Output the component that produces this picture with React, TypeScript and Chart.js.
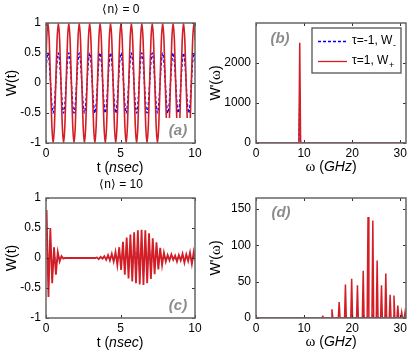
import React, { useEffect, useRef } from "react";
import { Chart, registerables } from "chart.js";
Chart.register(...registerables);

const SANS = "'Liberation Sans', Arial, Helvetica, sans-serif";
const SERIF = "'Liberation Serif', 'Times New Roman', serif";
const RED = "rgb(212,30,38)";
const BLUE = "#0000ff";
Chart.defaults.font.family = SANS;

// ---------- Panel (a): <n> = 0, sampled every aDt ns starting at aT0 ----------
const aT0 = -0.045;
const aDt = 0.0875;
const aRed = [
  0, 0.71, 1, 0.71, 0, -0.71, -1, -0.71,
  0, 0.71, 1, 0.71, 0, -0.71, -1, -0.71,
  0, 0.71, 1, 0.71, 0, -0.71, -1, -0.71,
  0, 0.71, 1, 0.71, 0, -0.71, -1, -0.71,
  0, 0.71, 1, 0.71, 0, -0.71, -1, -0.71,
  0, 0.71, 1, 0.71, 0, -0.71, -1, -0.71,
  0, 0.71, 1, 0.71, 0, -0.71, -1, -0.71,
  0, 0.71, 1, 0.71, 0, -0.71, -1, -0.71,
  0, 0.71, 1, 0.71, 0, -0.71, -1, -0.71,
  0, 0.71, 1, 0.71, 0, -0.71, -1, -0.71,
  0, 0.71, 1, 0.71, 0, -0.71, -1, -0.71,
  0, 0.71, 1, 0.71, 0, -0.71, -1, -0.71,
  0, 0.71, 1, 0.71, 0, -0.71, -1, -0.71,
  0, 0.71, 1, 0.71, 0, -0.71, -1, -0.71,
  0, 0.71, 1, 0.71,
];
const aBlue = [
  0, 0.35, 0.5, 0.35, 0, -0.35, -0.5, -0.35,
  0, 0.35, 0.5, 0.35, 0, -0.35, -0.5, -0.35,
  0, 0.35, 0.5, 0.35, 0, -0.35, -0.5, -0.35,
  0, 0.35, 0.5, 0.35, 0, -0.35, -0.5, -0.35,
  0, 0.35, 0.5, 0.35, 0, -0.35, -0.5, -0.35,
  0, 0.35, 0.5, 0.35, 0, -0.35, -0.5, -0.35,
  0, 0.35, 0.5, 0.35, 0, -0.35, -0.5, -0.35,
  0, 0.35, 0.5, 0.35, 0, -0.35, -0.5, -0.35,
  0, 0.35, 0.5, 0.35, 0, -0.35, -0.5, -0.35,
  0, 0.35, 0.5, 0.35, 0, -0.35, -0.5, -0.35,
  0, 0.35, 0.5, 0.35, 0, -0.35, -0.5, -0.35,
  0, 0.35, 0.5, 0.35, 0, -0.35, -0.5, -0.35,
  0, 0.35, 0.5, 0.35, 0, -0.35, -0.5, -0.35,
  0, 0.35, 0.5, 0.35, 0, -0.35, -0.5, -0.35,
  0, 0.35, 0.5, 0.35,
];

// ---------- Panel (c): <n> = 10, sampled every cDt ns ----------
const cT0 = 0.04;
const cDt = 0.125;
const cRed = [
  0.8, -0.65, 0.5, -0.42, 0.18, -0.28, 0.1, -0.06, 0.03, -0.01,
  0, 0, 0, 0, 0, 0, 0, 0, 0, 0, 0, 0, 0, 0, 0, 0, 0,
  0.01, -0.02, 0.02, -0.01, 0.03, -0.03, 0.05, -0.04, 0.07, -0.06,
  0.1, -0.12, 0.18, -0.2, 0.27, -0.28, 0.34, -0.34, 0.39, -0.39,
  0.43, -0.42, 0.46, -0.44, 0.47, -0.45, 0.46, -0.42, 0.41, -0.35,
  0.33, -0.27, 0.26, -0.19, 0.17, -0.12, 0.09, -0.06, 0.05, -0.04,
  0.06, -0.03, 0.04, -0.06, 0.05, -0.04, 0.07, -0.08, 0.06, -0.05,
  0.09, -0.1, 0.1, -0.07,
];
const cBlue = [
  0.5, -0.4, 0.3, -0.25, 0.1, -0.15, 0.06, -0.03, 0.02, 0,
  0, 0, 0, 0, 0, 0, 0, 0, 0, 0, 0, 0, 0, 0, 0, 0, 0,
  0.01, -0.01, 0.01, -0.01, 0.02, -0.02, 0.03, -0.02, 0.04, -0.04,
  0.06, -0.07, 0.1, -0.12, 0.16, -0.17, 0.2, -0.2, 0.23, -0.23,
  0.26, -0.25, 0.28, -0.27, 0.28, -0.27, 0.27, -0.25, 0.24, -0.21,
  0.2, -0.16, 0.15, -0.11, 0.1, -0.07, 0.05, -0.04, 0.03, -0.02,
  0.04, -0.02, 0.02, -0.04, 0.03, -0.02, 0.04, -0.05, 0.04, -0.03,
  0.05, -0.06, 0.06, -0.04,
];

// ---------- Panel (b): spectrum for <n> = 0 ----------
const bFreq = [9.1];
const bRed = [2500];
const bBlue = [1250];

// ---------- Panel (d): spectrum for <n> = 10 ----------
const dFreq = [13.9, 15.8, 17.3, 18.6, 19.9, 21.1, 22.3, 23.3, 24.3, 25.2, 26.1, 27.0, 27.9, 28.7, 29.5, 30.3, 31.0];
const dRed = [2, 12, 22, 46, 54, 45, 65, 139, 134, 79, 45, 61, 32, 31, 17, 8, 8];
const dBlue = [0, 0, 1, 2, 4, 12, 6, 3, 4, 10, 8, 4, 2, 3, 1, 1, 1];

// ---------- tick labels ----------
const timeTicks = [0, 5, 10];
const wTicks = [-1, -0.5, 0, 0.5, 1];
const omegaTicks = [0, 10, 20, 30];
const bTicks = [0, 1000, 2000];
const dTicks = [0, 50, 100, 150];

const OMEGA_MAX = 31.2;
const SPIKE_HALF = 0.18;

function timeSeries(t0: number, dt: number, vals: number[]) {
  return vals.map((v, i) => ({ x: t0 + i * dt, y: v }));
}
function spectrum(freqs: number[], heights: number[], max: number) {
  const pts: { x: number; y: number }[] = [{ x: 0, y: 0 }];
  freqs.forEach((f, i) => {
    pts.push({ x: f - SPIKE_HALF, y: 0 }, { x: f, y: heights[i] }, { x: f + SPIKE_HALF, y: 0 });
  });
  pts.push({ x: max, y: 0 });
  return pts;
}

type Seg = { t: string; f: string; dy?: number };

function drawRich(ctx: CanvasRenderingContext2D, segs: Seg[], cx: number, cy: number, rotate = false, color = "#000") {
  ctx.save();
  ctx.translate(cx, cy);
  if (rotate) ctx.rotate(-Math.PI / 2);
  let total = 0;
  for (const s of segs) {
    ctx.font = s.f;
    total += ctx.measureText(s.t).width;
  }
  let x = -total / 2;
  ctx.textBaseline = "middle";
  ctx.textAlign = "left";
  ctx.fillStyle = color;
  for (const s of segs) {
    ctx.font = s.f;
    ctx.fillText(s.t, x, s.dy || 0);
    x += ctx.measureText(s.t).width;
  }
  ctx.restore();
}

const F14 = `14px ${SANS}`;
const F14I = `italic 14px ${SANS}`;
const OMEGA = `15px ${SERIF}`;

const T_TITLE: Seg[] = [{ t: "t (", f: F14 }, { t: "nsec", f: F14I }, { t: ")", f: F14 }];
const W_TITLE: Seg[] = [{ t: "W(t)", f: F14 }];
const O_TITLE: Seg[] = [{ t: "ω", f: OMEGA }, { t: " (", f: F14 }, { t: "GHz", f: F14I }, { t: ")", f: F14 }];
const WP_TITLE: Seg[] = [{ t: "W'(", f: F14 }, { t: "ω", f: OMEGA }, { t: ")", f: F14 }];

interface Panel {
  left: number; top: number; width: number; height: number;
  plot: { l: number; r: number; t: number; b: number };
  datasets: any[];
  x: { min: number; max: number; ticks: number[] };
  y: { min: number; max: number; ticks: number[] };
  title?: string; titleX?: number; titleY?: number;
  xTitle: Seg[]; xTitleX: number; xTitleY: number;
  yTitle: Seg[]; yTitleX: number;
  letter: string; letterX: number; letterY: number;
  whiteBox?: { l: number; t: number; r: number; b: number };
  legend?: boolean;
}

function redDs(data: any[], width: number, smooth: boolean) {
  return {
    data, borderColor: RED, borderWidth: width, pointRadius: 0, fill: false,
    cubicInterpolationMode: smooth ? "monotone" : "default", tension: 0,
  };
}
function blueDs(data: any[], width: number, smooth: boolean) {
  return {
    data, borderColor: BLUE, borderWidth: width, borderDash: [3, 2], pointRadius: 0, fill: false,
    cubicInterpolationMode: smooth ? "monotone" : "default", tension: 0,
  };
}

const PANELS: Panel[] = [
  {
    left: 0, top: 0, width: 207, height: 176,
    plot: { l: 46, r: 195, t: 23, b: 143 },
    datasets: [redDs(timeSeries(aT0, aDt, aRed), 1.6, true), blueDs(timeSeries(aT0, aDt, aBlue), 1.4, true)],
    x: { min: 0, max: 10, ticks: timeTicks }, y: { min: -1, max: 1, ticks: wTicks },
    title: "⟨n⟩ = 0", titleX: 121, titleY: 10,
    xTitle: T_TITLE, xTitleX: 120, xTitleY: 168,
    yTitle: W_TITLE, yTitleX: 12,
    letter: "(a)", letterX: 178, letterY: 131,
    whiteBox: { l: 165, t: 118, r: 195, b: 143 },
  },
  {
    left: 207, top: 0, width: 208, height: 176,
    plot: { l: 256, r: 406, t: 23, b: 143 },
    datasets: [redDs(spectrum(bFreq, bRed, OMEGA_MAX), 1.5, false), blueDs(spectrum(bFreq, bBlue, OMEGA_MAX), 1.2, false)],
    x: { min: 0, max: OMEGA_MAX, ticks: omegaTicks }, y: { min: 0, max: 2990, ticks: bTicks },
    xTitle: O_TITLE, xTitleX: 331, xTitleY: 167,
    yTitle: WP_TITLE, yTitleX: 216,
    letter: "(b)", letterX: 280, letterY: 39,
    legend: true,
  },
  {
    left: 0, top: 176, width: 207, height: 184,
    plot: { l: 46, r: 195, t: 198, b: 318 },
    datasets: [redDs(timeSeries(cT0, cDt, cRed), 1.8, false), blueDs(timeSeries(cT0, cDt, cBlue), 1.2, false)],
    x: { min: 0, max: 10, ticks: timeTicks }, y: { min: -1, max: 1, ticks: wTicks },
    title: "⟨n⟩ = 10", titleX: 121, titleY: 184.5,
    xTitle: T_TITLE, xTitleX: 120, xTitleY: 343,
    yTitle: W_TITLE, yTitleX: 12,
    letter: "(c)", letterX: 178, letterY: 306,
  },
  {
    left: 207, top: 176, width: 208, height: 184,
    plot: { l: 256, r: 406, t: 198, b: 318 },
    datasets: [redDs(spectrum(dFreq, dRed, OMEGA_MAX), 1.5, false), blueDs(spectrum(dFreq, dBlue, OMEGA_MAX), 1.2, false)],
    x: { min: 0, max: OMEGA_MAX, ticks: omegaTicks }, y: { min: 0, max: 165, ticks: dTicks },
    xTitle: O_TITLE, xTitleX: 331, xTitleY: 342,
    yTitle: WP_TITLE, yTitleX: 216,
    letter: "(d)", letterX: 281, letterY: 213,
  },
];

function overlay(p: Panel) {
  const ox = p.left, oy = p.top;
  return {
    id: "overlay",
    afterDatasetsDraw(chart: any) {
      const ctx: CanvasRenderingContext2D = chart.ctx;
      const { left, right, top, bottom } = chart.chartArea;
      ctx.save();
      if (p.whiteBox) {
        const w = p.whiteBox;
        ctx.fillStyle = "#fff";
        ctx.fillRect(w.l - ox, w.t - oy, w.r - w.l, w.b - w.t);
      }
      // panel letter
      ctx.font = `italic bold 15px ${SANS}`;
      ctx.fillStyle = "#8c8c8c";
      ctx.textAlign = "center";
      ctx.textBaseline = "middle";
      ctx.fillText(p.letter, p.letterX - ox, p.letterY - oy);
      // inward ticks on all four sides
      ctx.strokeStyle = "#333";
      ctx.lineWidth = 1;
      ctx.beginPath();
      const xs = chart.scales.x, ys = chart.scales.y;
      xs.ticks.forEach((tk: any) => {
        const px = Math.round(xs.getPixelForValue(tk.value)) + 0.5;
        ctx.moveTo(px, bottom); ctx.lineTo(px, bottom - 3);
        ctx.moveTo(px, top); ctx.lineTo(px, top + 3);
      });
      ys.ticks.forEach((tk: any) => {
        const py = Math.round(ys.getPixelForValue(tk.value)) + 0.5;
        ctx.moveTo(left, py); ctx.lineTo(left + 3, py);
        ctx.moveTo(right, py); ctx.lineTo(right - 3, py);
      });
      ctx.stroke();
      // box
      ctx.strokeStyle = "#666";
      ctx.lineWidth = 1.5;
      ctx.strokeRect(left, top, right - left, bottom - top);
      // legend
      if (p.legend) {
        const lx = 312 - ox, ly = 28 - oy, lw = 89, lh = 45;
        ctx.fillStyle = "#fff";
        ctx.fillRect(lx, ly, lw, lh);
        ctx.strokeStyle = "#555";
        ctx.lineWidth = 1.3;
        ctx.strokeRect(lx, ly, lw, lh);
        const rows = [
          { c: BLUE, dash: [3, 2], y: 41, label: "τ=-1, W", sub: "-" },
          { c: RED, dash: [], y: 61, label: "τ=1, W", sub: "+" },
        ];
        rows.forEach((r) => {
          ctx.beginPath();
          ctx.setLineDash(r.dash);
          ctx.strokeStyle = r.c;
          ctx.lineWidth = 1.3;
          ctx.moveTo(318 - ox, r.y - oy + 0.5);
          ctx.lineTo(347 - ox, r.y - oy + 0.5);
          ctx.stroke();
          ctx.setLineDash([]);
          ctx.fillStyle = "#000";
          ctx.textAlign = "left";
          ctx.textBaseline = "middle";
          ctx.font = `12px ${SANS}`;
          ctx.fillText(r.label, 352 - ox, r.y - oy);
          const w = ctx.measureText(r.label).width;
          ctx.font = `9px ${SANS}`;
          ctx.fillText(r.sub, 352 - ox + w + 0.5, r.y - oy + 5);
        });
      }
      ctx.restore();
    },
    afterDraw(chart: any) {
      const ctx: CanvasRenderingContext2D = chart.ctx;
      const { top, bottom } = chart.chartArea;
      if (p.title) drawRich(ctx, [{ t: p.title, f: `12px ${SANS}` }], p.titleX! - ox, p.titleY! - oy);
      drawRich(ctx, p.xTitle, p.xTitleX - ox, p.xTitleY - oy);
      drawRich(ctx, p.yTitle, p.yTitleX - ox, (top + bottom) / 2, true);
    },
  };
}

function fmt(v: number) {
  return String(Math.round(v * 1000) / 1000);
}

function makeConfig(p: Panel): any {
  return {
    type: "line",
    data: { datasets: p.datasets },
    options: {
      responsive: false,
      animation: false,
      devicePixelRatio: 1,
      events: [],
      layout: { padding: { left: 0, top: p.plot.t - p.top, right: p.left + p.width - p.plot.r, bottom: 0 } },
      plugins: { legend: { display: false }, tooltip: { enabled: false }, title: { display: false } },
      elements: { point: { radius: 0 } },
      scales: {
        x: {
          type: "linear", min: p.x.min, max: p.x.max,
          grid: { display: false, drawTicks: false }, border: { display: false },
          ticks: { autoSkip: false, maxRotation: 0, padding: 3, color: "#000", font: { size: 12, family: SANS }, callback: (v: number) => fmt(v) },
          afterBuildTicks: (s: any) => { s.ticks = p.x.ticks.map((v) => ({ value: v })); },
          afterFit: (s: any) => { s.height = p.top + p.height - p.plot.b; },
        },
        y: {
          type: "linear", min: p.y.min, max: p.y.max,
          grid: { display: false, drawTicks: false }, border: { display: false },
          ticks: { autoSkip: false, padding: 5, color: "#000", font: { size: 12, family: SANS }, callback: (v: number) => fmt(v) },
          afterBuildTicks: (s: any) => { s.ticks = p.y.ticks.map((v) => ({ value: v })); },
          afterFit: (s: any) => { s.width = p.plot.l - p.left; },
        },
      },
    },
    plugins: [overlay(p)],
  };
}

export default function App() {
  const boxRef = useRef<HTMLDivElement>(null);
  useEffect(() => {
    const canvases = Array.from(boxRef.current!.querySelectorAll("canvas"));
    const charts = canvases.map((c, i) => new Chart(c, makeConfig(PANELS[i])));
    return () => charts.forEach((c) => c.destroy());
  }, []);
  return (
    <div ref={boxRef} style={{ position: "absolute", left: 0, top: 0, width: 415, height: 360, background: "#fff" }}>
      {PANELS.map((p, i) => (
        <canvas
          key={i}
          width={p.width}
          height={p.height}
          style={{ position: "absolute", left: p.left, top: p.top, width: p.width, height: p.height, display: "block" }}
        />
      ))}
    </div>
  );
}
